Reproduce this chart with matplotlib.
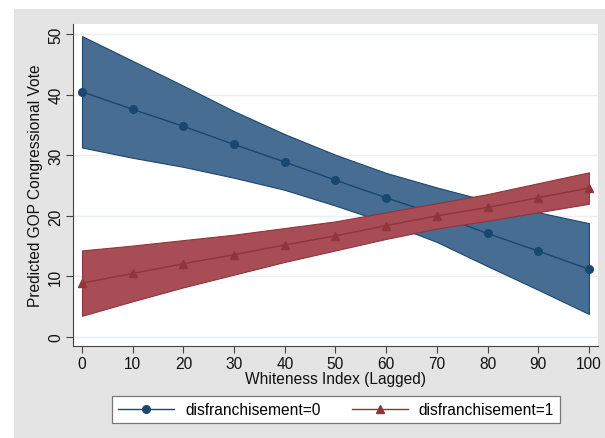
import numpy as np
import matplotlib
matplotlib.use("Agg")
import matplotlib.pyplot as plt
from matplotlib.lines import Line2D
from matplotlib.patches import Rectangle

plt.rcParams['font.family'] = ['Liberation Sans', 'DejaVu Sans']

# whiteness index (lagged)
x = [0, 10, 20, 30, 40, 50, 60, 70, 80, 90, 100]

# disfranchisement = 0
d0_mean = [40.5, 37.6, 34.8, 31.8, 28.9, 25.9, 23.0, 20.2, 17.1, 14.2, 11.2]
d0_upper = [49.7, 45.6, 41.5, 37.3, 33.5, 30.1, 27.1, 24.7, 22.5, 20.6, 18.8]
d0_lower = [31.3, 29.6, 28.1, 26.3, 24.3, 21.7, 18.9, 15.7, 11.7, 7.8, 3.8]

# disfranchisement = 1
d1_mean = [8.9, 10.5, 12.1, 13.6, 15.2, 16.7, 18.4, 20.0, 21.4, 23.0, 24.6]
d1_upper = [14.3, 15.1, 16.0, 16.9, 18.0, 19.1, 20.6, 22.1, 23.6, 25.4, 27.2]
d1_lower = [3.5, 5.9, 8.2, 10.3, 12.4, 14.3, 16.2, 17.9, 19.2, 20.6, 22.0]

labels = ['disfranchisement=0', 'disfranchisement=1']

navy = '#1a476f'
navy_fill = '#476d93'
maroon = '#90353b'
maroon_fill = '#a84c55'
bg = '#e4e4e4'
fs = 11.2

fig = plt.figure(figsize=(6.05, 4.39), dpi=100, facecolor='white')
fig.patches.append(Rectangle((14 / 605, 0), 1, 1 - 10 / 439, transform=fig.transFigure,
                             facecolor=bg, edgecolor='none', zorder=-10))

ax = fig.add_axes([73 / 605, 1 - 347 / 439, 525 / 605, 322 / 439])
ax.set_facecolor('white')

ax.fill_between(x, d0_lower, d0_upper, facecolor=navy_fill, edgecolor=navy, linewidth=0.8, zorder=2)
ax.plot(x, d0_mean, color=navy, marker='o', markersize=5.5, linewidth=1.0, zorder=3)
ax.fill_between(x, d1_lower, d1_upper, facecolor=maroon_fill, edgecolor=maroon, linewidth=0.8, zorder=4)
ax.plot(x, d1_mean, color=maroon, marker='^', markersize=6, linewidth=1.0, zorder=5)

ax.set_xlim(-1.78, 101.8)
ax.set_ylim(-1.49, 51.7)
ax.set_xticks(x)
ax.set_yticks([0, 10, 20, 30, 40, 50])
ax.grid(axis='y', color='#e8f0f3', linewidth=1.0, zorder=0)
ax.set_axisbelow(True)

for s in ['top', 'right']:
    ax.spines[s].set_visible(False)
for s in ['left', 'bottom']:
    ax.spines[s].set_color('#444444')
    ax.spines[s].set_linewidth(0.8)
ax.tick_params(axis='both', direction='out', length=5, width=0.8, color='#444444',
               labelsize=fs, labelcolor='#111111', pad=2)
for lab in ax.get_yticklabels():
    lab.set_rotation(90)
    lab.set_va('center')

ax.set_xlabel('Whiteness Index (Lagged)', fontsize=fs, color='#111111', labelpad=0)
ax.set_ylabel('Predicted GOP Congressional Vote', fontsize=fs, color='#111111', labelpad=4)

handles = [Line2D([], [], color=navy, marker='o', markersize=5.5, linewidth=1.0),
           Line2D([], [], color=maroon, marker='^', markersize=6, linewidth=1.0)]
leg = fig.legend(handles, labels, loc='center', bbox_to_anchor=(336 / 605, 1 - 410.5 / 439),
                 ncol=2, fontsize=fs, frameon=True, fancybox=False, handlelength=3.6,
                 columnspacing=2.0, handletextpad=0.7, borderpad=0.4)
leg.get_frame().set_edgecolor('#777777')
leg.get_frame().set_linewidth(0.9)
leg.get_frame().set_facecolor('white')
leg.get_frame().set_alpha(1)

fig.savefig('out.png', dpi=100, facecolor='white')
